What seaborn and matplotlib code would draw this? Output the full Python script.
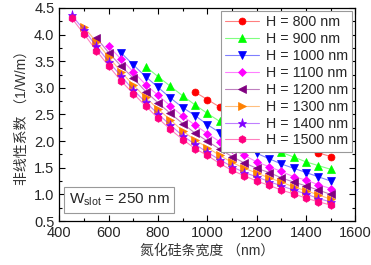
import pandas as pd
import numpy as np
import matplotlib
matplotlib.use('Agg')
import matplotlib.pyplot as plt
from matplotlib.ticker import MultipleLocator, FormatStrFormatter
import seaborn as sns

# strip width (nm) for each series
w_all = [450, 500, 550, 600, 650, 700, 750, 800, 850, 900, 950, 1000,
         1050, 1100, 1150, 1200, 1250, 1300, 1350, 1400, 1450, 1500]

h800 = [2.92, 2.78, 2.64, 2.51, 2.39, 2.27, 2.16, 2.06, 1.96, 1.87, 1.78, 1.71]
h900 = [3.40, 3.21, 3.03, 2.85, 2.68, 2.52, 2.37, 2.24, 2.12, 2.00, 1.89, 1.79,
        1.70, 1.61, 1.54, 1.47]
h1000 = [3.66, 3.43, 3.21, 3.01, 2.81, 2.63, 2.48, 2.31, 2.16, 2.02, 1.89, 1.77,
         1.67, 1.57, 1.49, 1.41, 1.33, 1.25]
h1100 = [3.78, 3.54, 3.30, 3.06, 2.86, 2.66, 2.47, 2.30, 2.14, 1.99, 1.85, 1.73,
         1.61, 1.52, 1.43, 1.33, 1.27, 1.18, 1.11]
h1200 = [3.94, 3.66, 3.41, 3.18, 2.93, 2.72, 2.52, 2.33, 2.15, 2.00, 1.85, 1.71,
         1.59, 1.49, 1.41, 1.31, 1.23, 1.16, 1.08, 1.00]
h1300 = [4.14, 3.86, 3.58, 3.30, 3.05, 2.82, 2.60, 2.40, 2.19, 2.02, 1.88, 1.73,
         1.60, 1.49, 1.40, 1.31, 1.23, 1.14, 1.07, 0.99, 0.91]
h1400 = [4.36, 4.09, 3.78, 3.49, 3.22, 2.96, 2.73, 2.51, 2.30, 2.10, 1.94, 1.79,
         1.65, 1.52, 1.41, 1.33, 1.24, 1.16, 1.08, 1.01, 0.92, 0.86]
h1500 = [4.31, 4.01, 3.70, 3.41, 3.13, 2.89, 2.66, 2.43, 2.22, 2.03, 1.86, 1.73,
         1.58, 1.45, 1.35, 1.25, 1.17, 1.08, 1.01, 0.93, 0.86, 0.80]

labels = ['H = 800 nm', 'H = 900 nm', 'H = 1000 nm', 'H = 1100 nm',
          'H = 1200 nm', 'H = 1300 nm', 'H = 1400 nm', 'H = 1500 nm']
series = [h800, h900, h1000, h1100, h1200, h1300, h1400, h1500]
colors = ['#FF0000', '#00FF00', '#0000FF', '#FF00FF',
          '#800080', '#FF8000', '#8000FF', '#FF0080']
markers = ['o', '^', 'v', 'D', '<', '>', '*', 'h']
msizes = [5, 5.5, 5.5, 4.5, 5.5, 5.5, 6.5, 5.5]

rows = []
for lab, vals in zip(labels, series):
    xs = w_all[len(w_all) - len(vals):]
    for x, v in zip(xs, vals):
        rows.append({'H': lab, 'width': x, 'gamma': v})
df = pd.DataFrame(rows)

sns.set_style('ticks')
plt.rcParams['font.family'] = ['Liberation Sans', 'Noto Sans CJK SC']
plt.rcParams['axes.unicode_minus'] = False
plt.rcParams['mathtext.fontset'] = 'custom'
plt.rcParams['mathtext.rm'] = 'Liberation Sans'

fig = plt.figure(figsize=(3.71, 2.65), dpi=100)
ax = fig.add_axes([0.16, 0.166, 0.798, 0.804])

for lab, c, m, ms in zip(labels, colors, markers, msizes):
    d = df[df['H'] == lab]
    rgb = matplotlib.colors.to_rgb(c)
    sns.lineplot(x=d['width'], y=d['gamma'], ax=ax, color=(*rgb, 0.5),
                 linewidth=0.8, marker=m, markersize=ms,
                 markerfacecolor=c, markeredgecolor=c, markeredgewidth=0.5,
                 label=lab, sort=False)

ax.set_xlim(400, 1600)
ax.set_ylim(0.5, 4.5)
ax.xaxis.set_major_locator(MultipleLocator(200))
ax.xaxis.set_minor_locator(MultipleLocator(100))
ax.yaxis.set_major_locator(MultipleLocator(0.5))
ax.yaxis.set_minor_locator(MultipleLocator(0.25))
ax.yaxis.set_major_formatter(FormatStrFormatter('%.1f'))
ax.tick_params(which='both', direction='in', top=True, right=True,
               labeltop=False, labelright=False, labelsize=10.5, color='black')
ax.tick_params(which='major', length=4, width=0.8)
ax.tick_params(which='minor', length=2, width=0.8)
for sp in ax.spines.values():
    sp.set_linewidth(0.9)
    sp.set_color('black')

ax.set_xlabel('氮化硅条宽度 （nm）', fontsize=10, labelpad=3, color='#333333')
ax.set_ylabel('非线性系数 （1/W/m）', fontsize=10, labelpad=4, color='#333333')

leg = ax.legend(loc='upper right', bbox_to_anchor=(0.99, 0.985),
                borderaxespad=0, fontsize=10.3, handlelength=2.4,
                labelspacing=0.2, handletextpad=0.45, borderpad=0.3,
                fancybox=False, framealpha=1, edgecolor='#999999')
leg.get_frame().set_linewidth(0.8)
leg.set_zorder(10)

ax.text(0.203, 0.099, r'W$_{\mathrm{slot}}$ = 250 nm', transform=ax.transAxes,
        ha='center', va='center', fontsize=11,
        bbox=dict(boxstyle='square,pad=0.3', facecolor='white',
                  edgecolor='#999999', linewidth=0.8))

fig.savefig('out.png', dpi=100)
